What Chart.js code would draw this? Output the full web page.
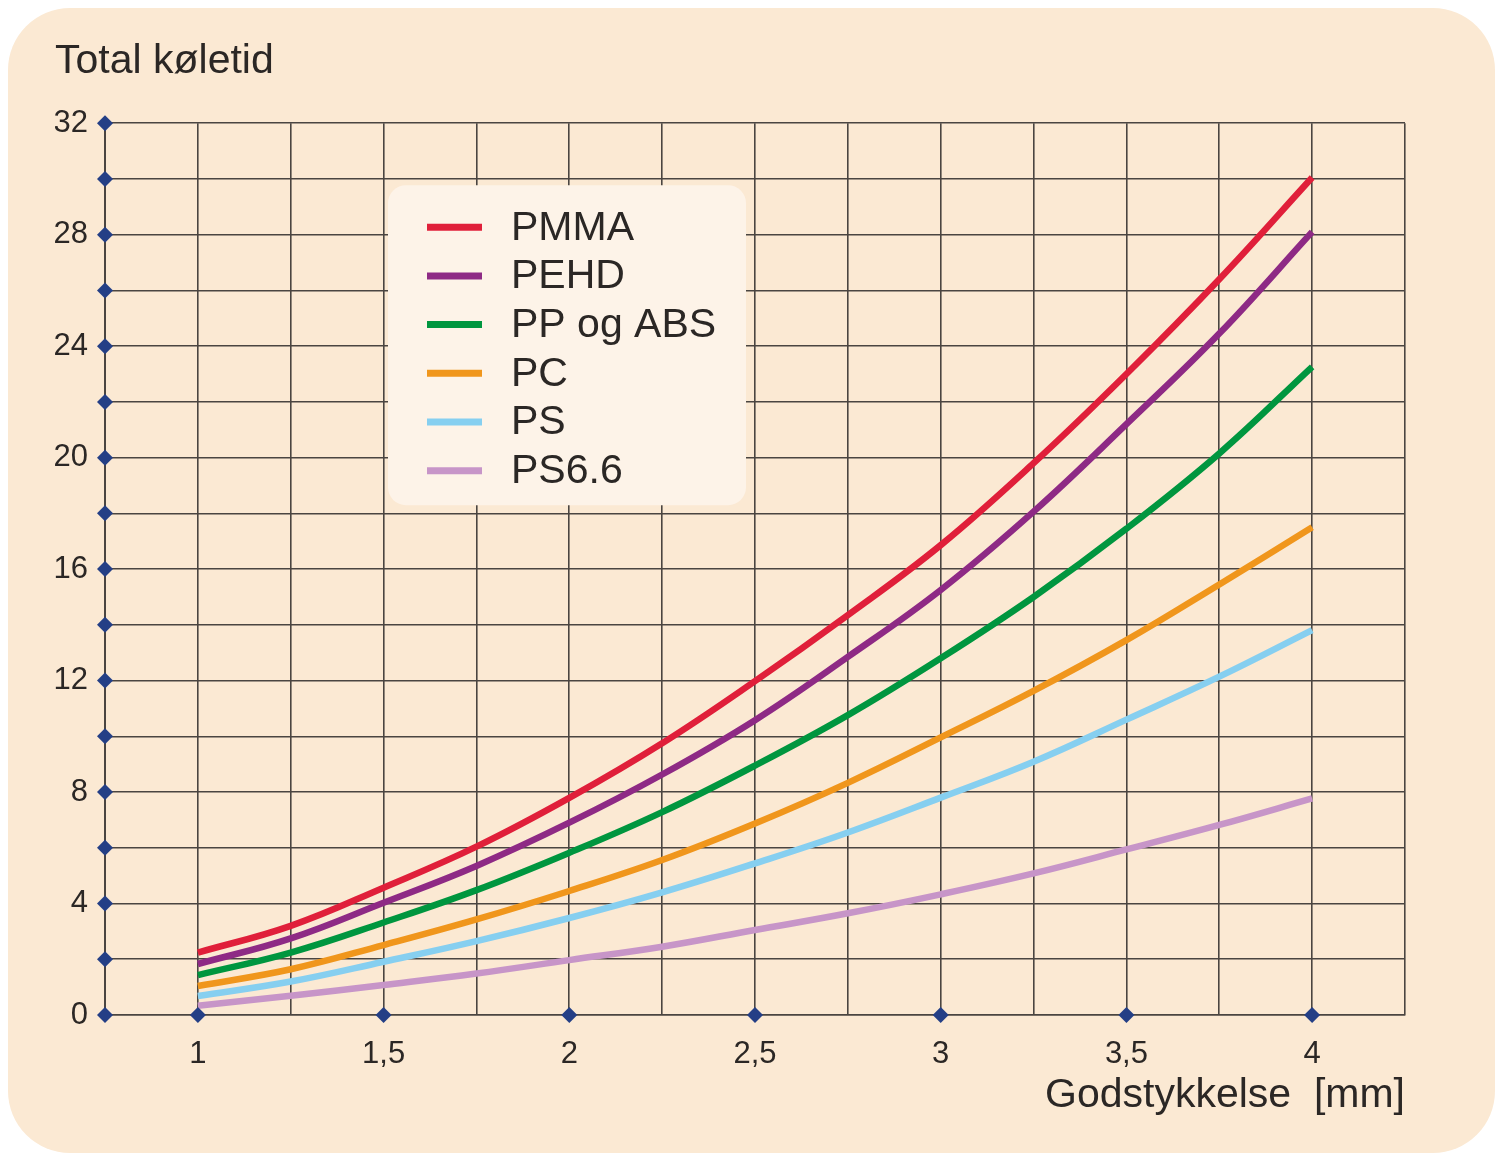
<!DOCTYPE html>
<html>
<head>
<meta charset="utf-8">
<title>Total køletid</title>
<script src="https://cdn.jsdelivr.net/npm/chart.js@4/dist/chart.umd.min.js"></script>
<style>
  body { margin: 0; background: #ffffff; }
  #panel {
    position: absolute; left: 8px; top: 8px; width: 1487px; height: 1145px;
    background: #fbe9d3; border-radius: 62px;
  }
  #chart { position: absolute; left: 0; top: 0; }
</style>
</head>
<body>
<div id="panel"></div>
<canvas id="chart" width="1502" height="1153"></canvas>
<script>
// wall thickness in mm
const thickness = [1, 1.25, 1.5, 1.75, 2, 2.25, 2.5, 2.75, 3, 3.25, 3.5, 3.75, 4];

// cooling time per material
const pmma = [2.24, 3.2, 4.57, 6.04, 7.79, 9.75, 11.98, 14.35, 16.86, 19.8, 23.0, 26.4, 30.05];
const pehd = [1.83, 2.75, 4.03, 5.35, 6.9, 8.63, 10.58, 12.85, 15.25, 18.06, 21.2, 24.45, 28.1];
const ppAbs = [1.43, 2.24, 3.32, 4.48, 5.82, 7.28, 8.95, 10.76, 12.8, 15.0, 17.45, 20.15, 23.26];
const pc = [1.04, 1.64, 2.51, 3.43, 4.45, 5.56, 6.87, 8.33, 9.96, 11.63, 13.45, 15.45, 17.5];
const ps = [0.68, 1.2, 1.91, 2.65, 3.48, 4.4, 5.44, 6.55, 7.8, 9.09, 10.6, 12.14, 13.81];
const ps66 = [0.33, 0.69, 1.08, 1.49, 1.97, 2.45, 3.05, 3.65, 4.33, 5.08, 5.94, 6.82, 7.77];

const seriesNames = ["PMMA", "PEHD", "PP og ABS", "PC", "PS", "PS6.6"];
const seriesColors = ["#e01f3a", "#8e2a85", "#00963f", "#f0961c", "#86cff0", "#c795c8"];

const xTickValues = [1, 1.5, 2, 2.5, 3, 3.5, 4];
const xTickLabels = ["1", "1,5", "2", "2,5", "3", "3,5", "4"];
const yTickLabels = [0, 4, 8, 12, 16, 20, 24, 28, 32];

const FONT = "'Liberation Sans', Arial, Helvetica, sans-serif";
const TEXT = "#2b2725";
const GRID = "#4a4541";
const NAVY = "#243f86";

function toPoints(values) {
  return values.map((v, i) => ({ x: thickness[i], y: v }));
}

const allSeries = [pmma, pehd, ppAbs, pc, ps, ps66];

const datasets = allSeries.map((values, i) => ({
  label: seriesNames[i],
  data: toPoints(values),
  borderColor: seriesColors[i],
  backgroundColor: seriesColors[i],
  borderWidth: 6.5,
  pointRadius: 0,
  tension: 0.4,
  fill: false,
}));

// blue diamonds on both axes
const diamondMarkers = {
  id: "diamondMarkers",
  afterDraw(chart) {
    const { ctx, chartArea, scales } = chart;
    const size = 8;
    const diamond = (x, y) => {
      ctx.beginPath();
      ctx.moveTo(x, y - size);
      ctx.lineTo(x + size, y);
      ctx.lineTo(x, y + size);
      ctx.lineTo(x - size, y);
      ctx.closePath();
      ctx.fill();
    };
    ctx.save();
    ctx.fillStyle = NAVY;
    for (let v = 0; v <= 32; v += 2) {
      diamond(chartArea.left, scales.y.getPixelForValue(v));
    }
    xTickValues.forEach((v) => diamond(scales.x.getPixelForValue(v), chartArea.bottom));
    ctx.restore();
  },
};

// legend box inside the plot
const insideLegend = {
  id: "insideLegend",
  afterDraw(chart) {
    const { ctx, chartArea } = chart;
    const boxX = chartArea.left + 283;
    const boxY = chartArea.top + 62;
    const boxW = 358;
    const boxH = 320;
    ctx.save();
    ctx.fillStyle = "#fdf3e8";
    ctx.beginPath();
    ctx.roundRect(boxX, boxY, boxW, boxH, 18);
    ctx.fill();

    ctx.font = "41px " + FONT;
    ctx.textBaseline = "middle";
    ctx.fillStyle = TEXT;
    chart.data.datasets.forEach((ds, i) => {
      const y = boxY + 42 + i * 48.7;
      ctx.strokeStyle = ds.borderColor;
      ctx.lineWidth = 7;
      ctx.beginPath();
      ctx.moveTo(boxX + 39, y);
      ctx.lineTo(boxX + 94, y);
      ctx.stroke();
      ctx.fillText(ds.label, boxX + 123, y + 1);
    });
    ctx.restore();
  },
};

new Chart(document.getElementById("chart"), {
  type: "line",
  data: { datasets: datasets },
  options: {
    responsive: false,
    devicePixelRatio: 1,
    animation: false,
    layout: { padding: { left: 55, right: 97, top: 0, bottom: 0 } },
    plugins: {
      legend: { display: false },
      tooltip: { enabled: false },
      title: {
        display: true,
        text: "Total køletid",
        align: "start",
        color: TEXT,
        font: { family: FONT, size: 41, weight: "normal" },
        padding: { top: 37, bottom: 37 },
      },
    },
    scales: {
      x: {
        type: "linear",
        min: 0.75,
        max: 4.25,
        afterFit(scale) { scale.height = 138; },
        grid: { color: GRID, lineWidth: 1.6, drawTicks: false },
        border: { display: true, color: GRID, width: 1.6 },
        ticks: {
          stepSize: 0.25,
          autoSkip: false,
          maxRotation: 0,
          padding: 21,
          color: TEXT,
          font: { family: FONT, size: 31 },
          callback(value) {
            const idx = xTickValues.findIndex((t) => Math.abs(t - value) < 1e-6);
            return idx >= 0 ? xTickLabels[idx] : "";
          },
        },
        title: {
          display: true,
          text: "Godstykkelse  [mm]",
          align: "end",
          color: TEXT,
          font: { family: FONT, size: 41 },
          padding: { top: 0, bottom: 33 },
        },
      },
      y: {
        min: 0,
        max: 32,
        afterFit(scale) { scale.width = 50; },
        grid: { color: GRID, lineWidth: 1.6, drawTicks: false },
        border: { display: true, color: GRID, width: 2 },
        ticks: {
          stepSize: 2,
          autoSkip: false,
          padding: 17,
          color: TEXT,
          font: { family: FONT, size: 31 },
          callback(value) {
            return yTickLabels.includes(value) ? String(value) : "";
          },
        },
      },
    },
  },
  plugins: [diamondMarkers, insideLegend],
});
</script>
</body>
</html>
